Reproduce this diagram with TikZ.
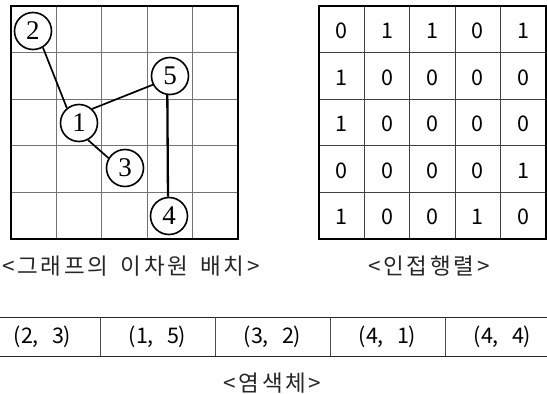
\documentclass[tikz,border=0pt]{standalone}
\usepackage{fontspec}
\newfontfamily\kr{Noto Sans CJK KR}
\newfontfamily\krcap[WordSpace=1.6,LetterSpace=12]{Noto Sans CJK KR}
\newfontfamily\krtab[WordSpace=1.65]{Noto Sans CJK KR}
\newfontfamily\gserif{Liberation Serif}
\tikzset{
  gnode/.style={circle,draw=black,line width=1.6pt,fill=white,minimum size=37pt,inner sep=0pt,font=\gserif\fontsize{27}{27}\selectfont},
  gedge/.style={line width=1.7pt},
  gedgeb/.style={line width=2.3pt},
  gridin/.style={draw=black!55,line width=0.9pt},
  gridout/.style={draw=black,line width=1.1pt},
  mcell/.style={font=\kr\fontsize{21.5}{21.5}\selectfont,inner sep=0pt},
  tcell/.style={font=\krtab\fontsize{21.5}{21.5}\selectfont,inner sep=0pt},
  capt/.style={font=\krcap\fontsize{22.5}{22.5}\selectfont,inner sep=0pt,text=black!85},
}
\begin{document}
\begin{tikzpicture}[x=1pt,y=-1pt]
\fill[white] (0,0) rectangle (547,394);
\useasboundingbox (0,0) rectangle (547,394);
% left grid
\foreach \i in {1,2,3,4} {
  \draw[gridin] ({11+45.4*\i},6) -- ({11+45.4*\i},239);
  \draw[gridin] (11,{6+46.6*\i}) -- (238,{6+46.6*\i});
}
\draw[gridout] (11,6) rectangle (238,239);
% graph nodes
\node[gnode] (n1) at (79,123) {1};
\node[gnode] (n2) at (33,31) {2};
\node[gnode] (n3) at (125,168) {3};
\node[gnode] (n4) at (169,216) {4};
\node[gnode] (n5) at (170,76) {5};
\draw[gedge] (n2.-59) -- (n1.129);
\draw[gedge] (n1.47) -- (n5.207);
\draw[gedge] (n1.-62) -- (n3.149);
\draw[gedgeb] (n5.262) -- (n4.93);
% adjacency matrix
\foreach \i in {1,2,3,4} {
  \draw[gridin,draw=black!75] ({319+45.4*\i},6) -- ({319+45.4*\i},239);
  \draw[gridin,draw=black!75] (319,{6+46.6*\i}) -- (546,{6+46.6*\i});
}
\draw[gridout] (319,6) rectangle (546,239);
\foreach \row [count=\r] in {{0,1,1,0,1},{1,0,0,0,0},{1,0,0,0,0},{0,0,0,0,1},{1,0,0,1,0}} {
  \foreach \v [count=\c] in \row {
    \node[mcell] (m-\r-\c) at ({319+45.4*(\c-0.5)},{6+46.6*(\r-0.5)+1.5}) {\v};
  }
}
% captions
\node[capt] (cap1) at (131,266) {<그래프의 이차원 배치>};
\node[capt] (cap2) at (429,266) {<인접행렬>};
% chromosome table
\draw[draw=black!85,line width=1pt] (0,317) -- (547,317);
\draw[draw=black!85,line width=1pt] (0,356) -- (547,356);
\foreach \x in {100,215,330,445} {
  \draw[draw=black!70,line width=1pt] (\x,317) -- (\x,356);
}
\node[tcell] (t1) at (42.5,337) {(2, 3)};
\node[tcell] (t2) at (157.5,337) {(1, 5)};
\node[tcell] (t3) at (272.5,337) {(3, 2)};
\node[tcell] (t4) at (387.5,337) {(4, 1)};
\node[tcell] (t5) at (502.5,337) {(4, 4)};
\node[capt] (cap3) at (272.5,383) {<염색체>};
\end{tikzpicture}
\end{document}
